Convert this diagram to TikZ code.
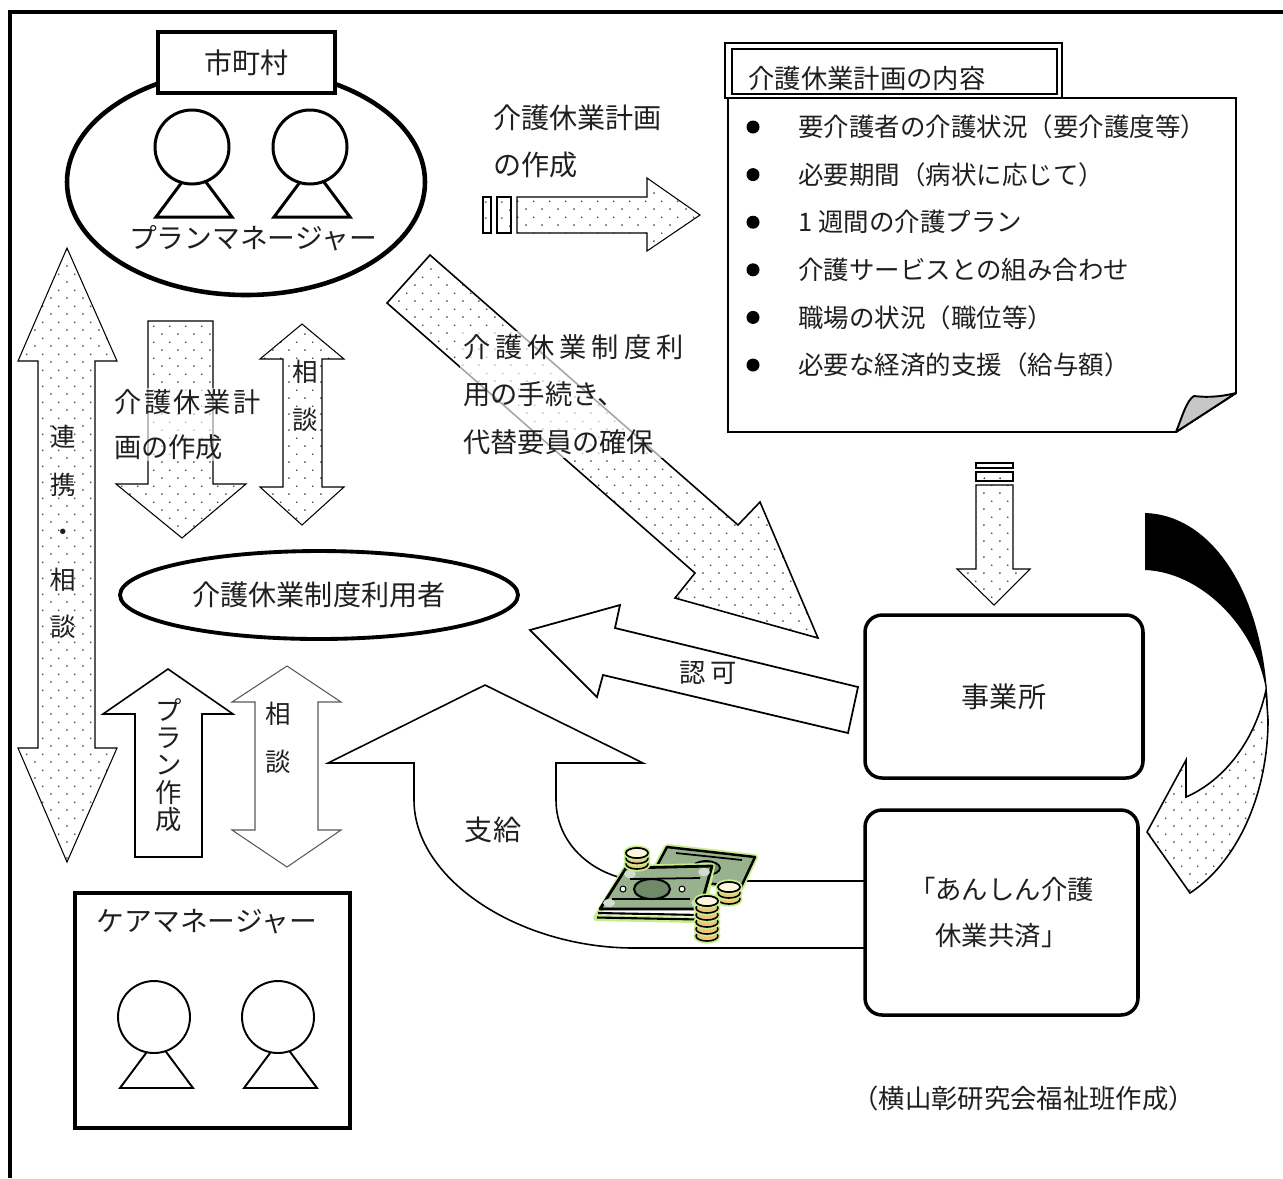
\documentclass[tikz,border=0pt]{standalone}
\usepackage{fontspec}
\setmainfont{Noto Sans CJK JP}
\usepackage{tikz}
\usetikzlibrary{patterns,shapes.geometric}

\definecolor{ink}{gray}{0.12}
\definecolor{billgreen}{RGB}{152,178,142}
\definecolor{billdark}{RGB}{110,138,102}
\definecolor{glow}{RGB}{200,238,140}
\definecolor{coingold}{RGB}{240,196,120}
\definecolor{coinface}{RGB}{255,246,222}
\definecolor{foldgray}{gray}{0.78}

% sparse staggered dots for the shaded block arrows
\pgfdeclarepatternformonly{speckle}{\pgfpointorigin}{\pgfpoint{9pt}{9pt}}{\pgfpoint{9pt}{9pt}}{%
  \pgfpathcircle{\pgfpoint{2.25pt}{2.25pt}}{0.55pt}%
  \pgfpathcircle{\pgfpoint{6.75pt}{6.75pt}}{0.55pt}%
  \pgfusepath{fill}}

\begin{document}
\begin{tikzpicture}[x=0.02cm, y=-0.02cm,
  every node/.style={inner sep=0pt, text=ink},
  txtS/.style={font=\fontsize{14.5}{27}\selectfont},
  txtM/.style={font=\fontsize{15}{27}\selectfont},
  txtL/.style={font=\fontsize{16}{27}\selectfont},
  dotarrow/.style={draw=black, line width=0.6pt, line join=miter,
                   preaction={fill=white}, pattern=speckle, pattern color=black!75},
  blankarrow/.style={draw=black, line width=0.9pt, fill=white, line join=miter},
  roundbox/.style={draw=black, line width=2pt, rounded corners=0.34cm,
                   fill=white, align=center}]

%% ── Page and frame (1 unit = 1 px, y grows downwards) ───────────────────────
\useasboundingbox (0,0) rectangle (1283,1178);
\draw[line width=2.3pt] (10,1178) -- (10,12) -- (1283,12);

%% ── Municipality: plan managers ─────────────────────────────────────────────
\draw[line width=2.6pt, fill=white] (246,182) ellipse [x radius=179, y radius=113];
\foreach \cx in {192,310}{
  \draw[line width=1.7pt, line join=miter] (\cx-36,217) -- (\cx+2,166) -- (\cx+40,217) -- cycle;
  \draw[line width=1.7pt, fill=white] (\cx,147) circle [radius=37];
}
\node[draw, line width=2.6pt, fill=white, minimum width=3.54cm, minimum height=1.22cm, txtL]
  (city) at (246.5,62.5) {市町村};
\node[font=\fontsize{15.8}{27}\selectfont] (planner) at (253,238) {プランマネージャー};

%% ── Plan drafting arrow (to the contents note) ──────────────────────────────
\node[txtL, align=left, anchor=west] (drafttop) at (493,141.5) {介護休業計画\\の作成};
\draw[dotarrow] (483,197) rectangle (491,233);
\draw[dotarrow] (497,197) rectangle (511,233);
\draw[dotarrow] (517,197) -- (647,197) -- (647,178) -- (700,215) -- (647,251)
  -- (647,233) -- (517,233) -- cycle;

%% ── Contents note with folded corner ────────────────────────────────────────
\draw[line width=1.1pt, fill=white] (728,98) -- (1236,98) -- (1236,393) -- (1176,432)
  -- (728,432) -- cycle;
\filldraw[line width=1.1pt, fill=foldgray, line join=round]
  (1236,393) -- (1176,432) .. controls (1183,414) and (1187,400) .. (1194,396)
  .. controls (1210,398) and (1224,396) .. (1236,393) -- cycle;
\draw[line width=0.8pt, fill=white] (725,43) rectangle (1062,98);
\draw[line width=1.4pt] (732,49) rectangle (1057,94);
\node[txtM, anchor=west] (contents) at (748,78) {介護休業計画の内容};

\foreach \i/\entry in {0/要介護者の介護状況（要介護度等）,
                       1/必要期間（病状に応じて）,
                       2/1 週間の介護プラン,
                       3/介護サービスとの組み合わせ,
                       4/職場の状況（職位等）,
                       5/必要な経済的支援（給与額）}{
  \fill (753,127+47.6*\i) circle [radius=6.5];
  \node[txtS, anchor=west] (item\i) at (798,127+47.6*\i) {\entry};
}

%% ── Procedure arrow (to the workplace) ──────────────────────────────────────
\draw[dotarrow, line width=0.9pt] (430,255) -- (738,525) -- (760,502) -- (818,638)
  -- (675,598) -- (695,573) -- (387,303) -- cycle;
\node[font=\fontsize{15.5}{27}\selectfont, align=left, anchor=west, fill=white,
      fill opacity=0.65, text opacity=1, inner sep=2pt]
  (procedure) at (459.5,394.5)
  {{\addfontfeature{LetterSpace=18}介護休業制度利}\\用の手続き、\\代替要員の確保};

%% ── Liaison double arrow (left edge) ────────────────────────────────────────
\draw[dotarrow] (67,248) -- (117,361) -- (95,361) -- (95,748) -- (117,748) -- (67,862)
  -- (18,748) -- (38,748) -- (38,361) -- (18,361) -- cycle;
\node[txtS, align=center] (liaison) at (63,532) {連\\携\\・\\相\\談};

%% ── Plan manager -> user ────────────────────────────────────────────────────
\draw[dotarrow] (148,321) -- (213,321) -- (213,484) -- (246,484) -- (182,538)
  -- (116,484) -- (148,484) -- cycle;
\node[font=\fontsize{15.5}{25.6}\selectfont, align=left, anchor=west, fill=white,
      fill opacity=0.6, text opacity=1, inner sep=1pt]
  (draftleft) at (112,424.5) {{\addfontfeature{LetterSpace=10}介護休業計}\\画の作成};

\draw[dotarrow] (302,324) -- (344,359) -- (322,359) -- (322,487) -- (344,487) -- (302,525)
  -- (260,487) -- (283,487) -- (283,359) -- (260,359) -- cycle;
\node[txtS, align=center] (consultup) at (305,396) {相\\談};

%% ── User of the leave scheme ────────────────────────────────────────────────
\node[ellipse, draw, line width=2.2pt, fill=white, minimum width=7.96cm,
      minimum height=1.76cm, txtL] (user) at (319,595) {介護休業制度利用者};

%% ── Care manager -> user ────────────────────────────────────────────────────
\draw[blankarrow] (168,669) -- (233,714) -- (202,714) -- (202,857) -- (135,857)
  -- (135,714) -- (103,714) -- cycle;
\node[font=\fontsize{15}{15.6}\selectfont, align=center] (planmake) at (169,765)
  {プ\\ラ\\ン\\作\\成};

\draw[blankarrow, draw=black!65, line width=0.6pt] (287,666) -- (341,702) -- (318,702)
  -- (318,830) -- (341,830) -- (287,867) -- (232,830) -- (255,830) -- (255,702)
  -- (232,702) -- cycle;
\node[txtS, align=center] (consultdown) at (278,738) {相\\談};

%% ── Approval arrow ──────────────────────────────────────────────────────────
\draw[blankarrow, line width=1pt] (530,630) -- (620,605) -- (615,628) -- (858,687)
  -- (848,733) -- (603,675) -- (597,697) -- cycle;
\node[txtM] (approval) at (708,673) {認\hspace{0.2em}可};

%% ── Payment U-turn arrow ────────────────────────────────────────────────────
\draw[blankarrow] (865,948) -- (634,948) .. controls (520,948) and (414,880) .. (414,800)
  -- (414,763) -- (328,763) -- (485,685) -- (643,763) -- (556,763) -- (556,800)
  .. controls (556,848) and (600,881) .. (646,881) -- (865,881) -- cycle;
\node[txtL] (payment) at (493,830) {支給};

%% ── Money: bills and coins ──────────────────────────────────────────────────
\begin{scope}[line join=round]
  % back bill
  \draw[glow, line width=3.5pt] (667,847) -- (755,857) -- (741,887) -- (651,877) -- cycle;
  \filldraw[fill=billgreen, draw=black, line width=1.4pt]
    (667,847) -- (755,857) -- (741,887) -- (651,877) -- cycle;
  \draw[black, line width=1pt] (676,853) -- (742,860);
  \filldraw[fill=billdark, draw=black, line width=1pt] (706,868) ellipse [x radius=14, y radius=7];
  % front bill stack
  \draw[glow, line width=3.5pt] (626,868) -- (712,866) -- (701,920) -- (596,918) -- cycle;
  \draw[black, line width=1.2pt] (598,913) -- (701,915);
  \draw[black, line width=1.2pt] (597,917.5) -- (700,919.5);
  \filldraw[fill=billgreen, draw=black, line width=1.6pt]
    (626,868) -- (712,866) -- (700,909) -- (600,909) -- cycle;
  \foreach \bx/\by in {630/874, 704/872, 697/903, 609/903}
    \fill[billgreen!45!white] (\bx,\by) ellipse [x radius=6, y radius=4];
  \draw[black, line width=1pt] (630,879) -- (700,878);
  \draw[black, line width=1pt] (612,899) -- (690,899);
  \filldraw[fill=billdark, draw=black, line width=1.2pt] (652,889) ellipse [x radius=18, y radius=10];
  \filldraw[fill=white, draw=black, line width=0.6pt] (623,889) circle [radius=3];
  \filldraw[fill=white, draw=black, line width=0.6pt] (682,889) circle [radius=3];
  % coin stacks
  \foreach \sx/\sy/\n/\gap in {637/864/2/5.5, 729/899/2/6, 707/936/5/7}{
    \foreach \k in {0,...,\n}{
      \draw[glow, line width=3pt] (\sx,\sy-\gap*\k) ellipse [x radius=11, y radius=5];
      \filldraw[fill=coingold, draw=black, line width=0.9pt]
        (\sx,\sy-\gap*\k) ellipse [x radius=11, y radius=5];
    }
    \filldraw[fill=coinface, draw=black, line width=0.9pt]
      (\sx,\sy-\gap*\n) ellipse [x radius=11, y radius=5];
  }
\end{scope}

%% ── Workplace and mutual-aid boxes ──────────────────────────────────────────
\draw[dotarrow] (976,463) rectangle (1013,468);
\draw[dotarrow] (976,472) rectangle (1013,481);
\draw[dotarrow] (976,485) -- (1013,485) -- (1013,569) -- (1030,569) -- (994,605)
  -- (957,569) -- (976,569) -- cycle;

\node[roundbox, minimum width=5.56cm, minimum height=3.26cm, txtL]
  (office) at (1004,696.5) {事業所};
\node[roundbox, minimum width=5.46cm, minimum height=4.1cm,
      font=\fontsize{15}{26}\selectfont]
  (mutual) at (1001.5,912.5) {「あんしん介護\\休業共済」};

%% ── Curved arrow: workplace -> mutual aid ───────────────────────────────────
\fill[black] (1145,513) -- (1145,570) .. controls (1200,572) and (1255,625) .. (1266,690)
  -- (1268,720) .. controls (1268,600) and (1215,515) .. (1145,513) -- cycle;
\draw[dotarrow, line width=0.9pt] (1266,690) .. controls (1255,740) and (1225,780) .. (1186,797)
  -- (1186,760) -- (1147,832) -- (1190,893)
  .. controls (1240,860) and (1268,790) .. (1268,720) -- cycle;

%% ── Care managers ───────────────────────────────────────────────────────────
\draw[line width=2.2pt] (75,893) rectangle (350,1128);
\node[font=\fontsize{15.8}{27}\selectfont] (caremgr) at (207,922) {ケアマネージャー};
\foreach \cx in {154,278}{
  \draw[line width=1.1pt, line join=miter] (\cx-34,1088) -- (\cx+2.5,1039) -- (\cx+39,1088) -- cycle;
  \draw[line width=1.1pt, fill=white] (\cx,1017) circle [radius=36];
}

%% ── Credit ──────────────────────────────────────────────────────────────────
\node[txtM, anchor=west] (credit) at (852,1098) {（横山彰研究会福祉班作成）};

\end{tikzpicture}
\end{document}
